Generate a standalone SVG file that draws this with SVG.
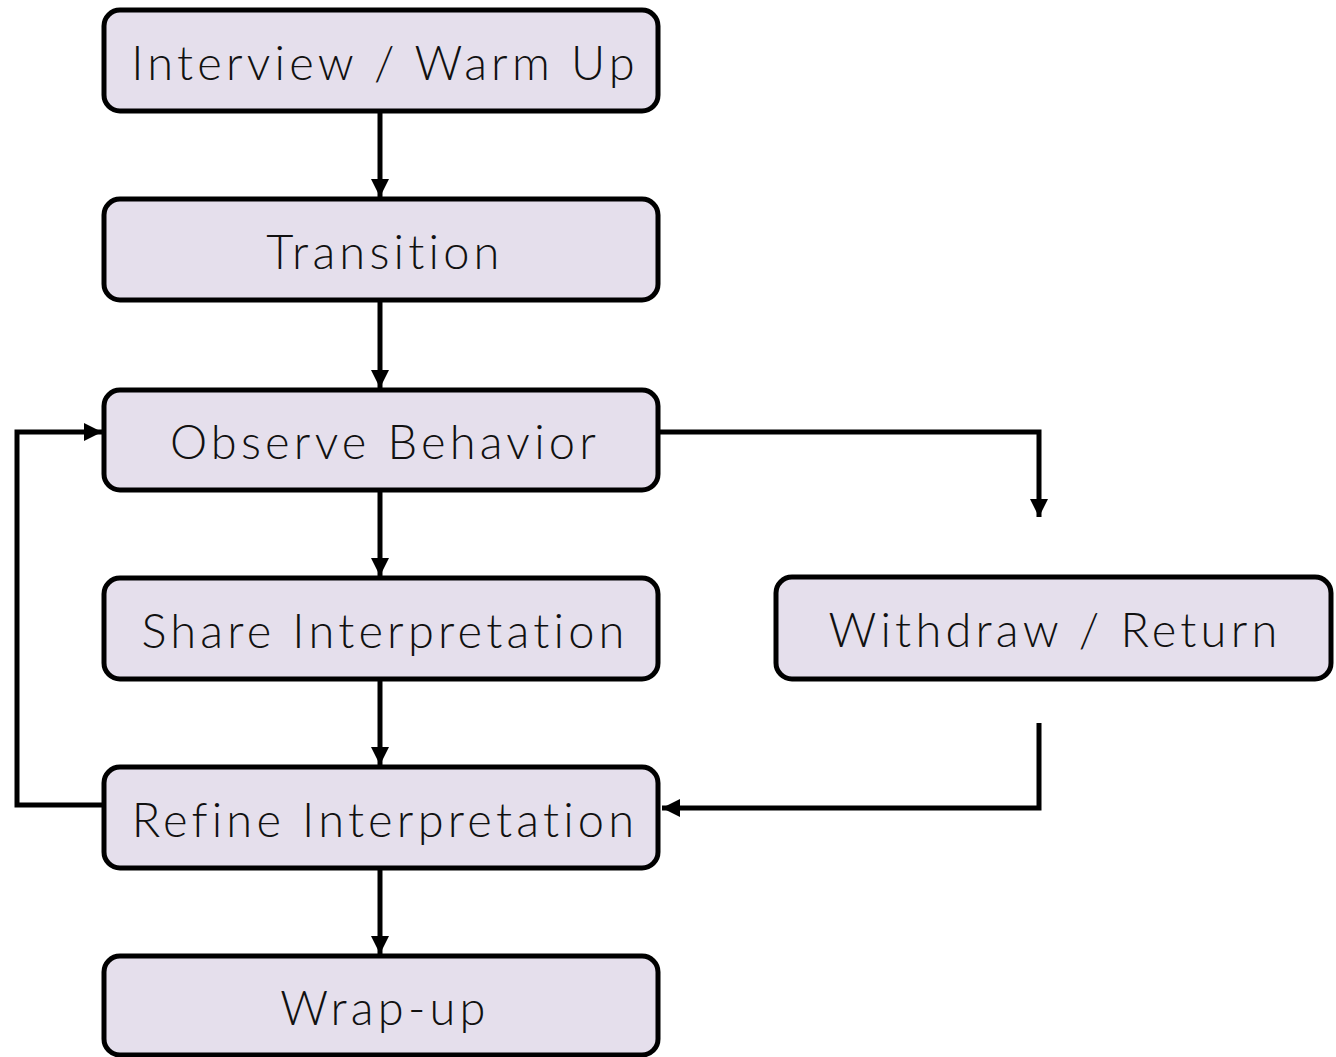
<svg xmlns="http://www.w3.org/2000/svg" width="1336" height="1057" viewBox="0 0 1336 1057">
<style>
.box{fill:#e5dfec;stroke:#000;stroke-width:5}
.lbl{font-family:Lato,"Liberation Sans",sans-serif;font-weight:300;font-size:47px;letter-spacing:4.2px;fill:#111;text-anchor:middle}
.c{fill:none;stroke:#000;stroke-width:5}
</style>
<defs>
<marker id="ah" viewBox="0 0 10 10" refX="10" refY="5" markerWidth="3.8" markerHeight="3.6" orient="auto" markerUnits="strokeWidth">
<path d="M0,0 L10,5 L0,10 z" fill="#000"/>
</marker>
</defs>
<g id="connectors">
<line class="c" x1="380" y1="111" x2="380" y2="197" marker-end="url(#ah)"/>
<line class="c" x1="380" y1="300" x2="380" y2="388" marker-end="url(#ah)"/>
<line class="c" x1="380" y1="490" x2="380" y2="576" marker-end="url(#ah)"/>
<line class="c" x1="380" y1="679" x2="380" y2="765" marker-end="url(#ah)"/>
<line class="c" x1="380" y1="868" x2="380" y2="954" marker-end="url(#ah)"/>
<polyline class="c" points="104,805 17,805 17,432 102,432" marker-end="url(#ah)"/>
<polyline class="c" points="658,432 1039,432 1039,517" marker-end="url(#ah)"/>
<polyline class="c" points="1039,723 1039,808 662,808" marker-end="url(#ah)"/>
</g>
<g id="n1"><rect class="box" x="104" y="10" width="554" height="101" rx="16"/><text class="lbl" x="385" y="80">Interview / Warm Up</text></g>
<g id="n2"><rect class="box" x="104" y="199" width="554" height="101" rx="16"/><text class="lbl" x="385" y="269">Transition</text></g>
<g id="n3"><rect class="box" x="104" y="390" width="554" height="100" rx="16"/><text class="lbl" x="385" y="459">Observe Behavior</text></g>
<g id="n4"><rect class="box" x="104" y="578" width="554" height="101" rx="16"/><text class="lbl" x="385" y="648">Share Interpretation</text></g>
<g id="n5"><rect class="box" x="104" y="767" width="554" height="101" rx="16"/><text class="lbl" x="385" y="837">Refine Interpretation</text></g>
<g id="n6"><rect class="box" x="104" y="956" width="554" height="99" rx="16"/><text class="lbl" x="385" y="1025">Wrap-up</text></g>
<g id="n7"><rect class="box" x="776" y="577" width="555" height="102" rx="16"/><text class="lbl" x="1055" y="647">Withdraw / Return</text></g>
</svg>
